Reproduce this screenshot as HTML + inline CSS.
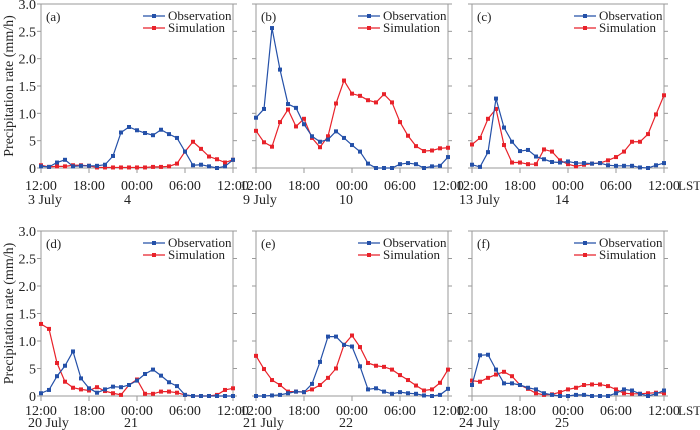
<!DOCTYPE html>
<html><head><meta charset="utf-8"><style>
body{margin:0;background:#fff;width:700px;height:430px;overflow:hidden}
svg{display:block;font-family:"Liberation Serif",serif}
</style></head><body>
<svg id="chart" width="700" height="430" viewBox="0 0 700 430" xmlns="http://www.w3.org/2000/svg"></svg>
<script>
const hourTicks=[0,6,12,18,24];
const timeLabels=["12:00","18:00","00:00","06:00","12:00"];
const yTicks=[0,0.5,1,1.5,2,2.5,3];
const yTickLabels=["0","5","1.0","1.5","2.0","2.5","3.0"];
const panelLetters=["(a)","(b)","(c)","(d)","(e)","(f)"];
const dateStart=["3 July","9 July","13 July","20 July","21 July","24 July"];
const dateNext=["4","10","14","21","22","25"];
const obsA=[0.03,0.02,0.1,0.15,0.03,0.04,0.04,0.04,0.06,0.22,0.65,0.75,0.69,0.64,0.6,0.7,0.62,0.55,0.3,0.05,0.06,0.03,0.0,0.03,0.15];
const simA=[0.05,0.02,0.03,0.03,0.05,0.05,0.04,0.01,0.01,0.01,0.01,0.01,0.01,0.01,0.02,0.02,0.03,0.08,0.3,0.48,0.35,0.21,0.16,0.1,0.15];
const obsB=[0.92,1.08,2.56,1.8,1.17,1.1,0.8,0.58,0.48,0.52,0.67,0.55,0.42,0.3,0.08,0.0,0.0,0.0,0.07,0.09,0.07,0.0,0.03,0.04,0.2];
const simB=[0.68,0.47,0.39,0.84,1.07,0.76,0.9,0.55,0.38,0.58,1.18,1.6,1.36,1.32,1.24,1.2,1.35,1.2,0.84,0.59,0.4,0.31,0.32,0.36,0.37];
const obsC=[0.06,0.02,0.29,1.27,0.74,0.48,0.31,0.33,0.21,0.16,0.11,0.1,0.12,0.09,0.09,0.08,0.09,0.05,0.04,0.04,0.04,0.01,0.0,0.05,0.09];
const simC=[0.43,0.55,0.9,1.08,0.42,0.1,0.1,0.07,0.07,0.34,0.3,0.14,0.07,0.03,0.06,0.08,0.09,0.14,0.2,0.3,0.48,0.48,0.62,0.98,1.33];
const obsD=[0.05,0.11,0.36,0.55,0.81,0.32,0.14,0.06,0.12,0.17,0.16,0.2,0.28,0.4,0.48,0.37,0.25,0.18,0.02,0.0,0.0,0.0,0.0,0.0,0.0];
const simD=[1.31,1.22,0.6,0.26,0.15,0.12,0.1,0.16,0.09,0.05,0.02,0.2,0.3,0.04,0.04,0.08,0.08,0.06,0.02,0.0,0.0,0.0,0.02,0.11,0.14];
const obsE=[0.0,0.0,0.01,0.02,0.05,0.08,0.07,0.22,0.62,1.08,1.08,0.93,0.9,0.54,0.12,0.14,0.08,0.04,0.07,0.05,0.04,0.01,0.0,0.02,0.13];
const simE=[0.73,0.49,0.29,0.2,0.08,0.08,0.07,0.12,0.2,0.33,0.5,0.93,1.1,0.89,0.6,0.55,0.53,0.48,0.38,0.29,0.19,0.1,0.12,0.24,0.48];
const obsF=[0.2,0.74,0.75,0.48,0.23,0.23,0.2,0.15,0.12,0.05,0.02,0.0,0.0,0.02,0.02,0.0,0.0,0.0,0.05,0.12,0.1,0.04,0.0,0.04,0.1];
const simF=[0.28,0.26,0.33,0.39,0.44,0.36,0.2,0.13,0.05,0.02,0.03,0.07,0.12,0.15,0.2,0.21,0.21,0.18,0.12,0.05,0.04,0.04,0.05,0.06,0.05];
const obsAll=[obsA,obsB,obsC,obsD,obsE,obsF];
const simAll=[simA,simB,simC,simD,simE,simF];

const svg=document.getElementById('chart');
const NS="http://www.w3.org/2000/svg";
function mk(tag,attrs,parent,text){const e=document.createElementNS(NS,tag);for(const k in attrs)e.setAttribute(k,attrs[k]);if(text!==undefined)e.textContent=text;(parent||svg).appendChild(e);return e;}
const lefts=[41,256,472];const W=192;
const rows=[{top:4,bot:168,tOff:22,dOff:36},{top:231,bot:396,tOff:19,dOff:31}];
const BLUE="#2450a8",RED="#e8222a";
for(let p=0;p<6;p++){
  const c=p%3,r=Math.floor(p/3);
  const L=lefts[c],T=rows[r].top,B=rows[r].bot;
  const xs=h=>L+h/24*W;
  const ys=v=>B-v/3*(B-T);
  const g=mk('g',{},svg);
  
  
  const box=mk('rect',{x:L,y:T,width:W,height:B-T,fill:'none',stroke:'#9a9a9a','stroke-width':1},g);
  
  yTicks.forEach((v,i)=>{
    mk('line',{x1:L-4,x2:L,y1:ys(v),y2:ys(v),stroke:'#9a9a9a'},g);
    mk('line',{x1:L+W,x2:L+W+4,y1:ys(v),y2:ys(v),stroke:'#9a9a9a'},g);
    if(c===0){const t=mk('text',{x:L-5,y:ys(v)+5,'text-anchor':'end','font-size':14,fill:'#222'},g,yTickLabels[i]);
      }
  });
  hourTicks.forEach((h,i)=>{
    mk('line',{x1:xs(h),x2:xs(h),y1:B,y2:B+5,stroke:'#9a9a9a'},g);
    const t=mk('text',{x:xs(h),y:B+rows[r].tOff,'text-anchor':'middle','font-size':14,fill:'#222'},g,timeLabels[i]);
    
  });
  const d1=mk('text',{x:L-13,y:B+rows[r].dOff,'font-size':14,fill:'#222'},g,dateStart[p]);
  
  const d2=mk('text',{x:xs(12)-13,y:B+rows[r].dOff,'font-size':14,fill:'#222'},g,dateNext[p]);
  
  const pl=mk('text',{x:L+5,y:T+17,'font-size':13,fill:'#222'},g,panelLetters[p]);
  
  [[simAll[p],RED,'simulation-series'],[obsAll[p],BLUE,'observation-series']].forEach(([arr,col,nm])=>{
    const s=mk('g',{},g);
    
    mk('polyline',{points:arr.map((v,i)=>xs(i)+','+ys(v)).join(' '),fill:'none',stroke:col,'stroke-width':1.2},s);
    arr.forEach((v,i)=>{const m=mk('rect',{x:xs(i)-2,y:ys(v)-2,width:4,height:4,fill:col},s);
      });
  });
  const lg=mk('g',{},g);
  
  [[BLUE,'Observation',T+12],[RED,'Simulation',T+24]].forEach(([col,lab,y])=>{
    mk('line',{x1:L+102,x2:L+124,y1:y,y2:y,stroke:col,'stroke-width':1.2},lg);
    mk('rect',{x:L+111,y:y-2,width:4,height:4,fill:col},lg);
    const t=mk('text',{x:L+127,y:y+4,'font-size':13,fill:'#222'},lg,lab);
    
  });
  if(c===0){
    const cy=(T+B)/2;
    const yl=mk('text',{x:0,y:0,transform:'translate(13,'+cy+') rotate(-90)','text-anchor':'middle','font-size':14,fill:'#222'},g,'Precipitation  rate (mm/h)');
    
  }
  if(c===2){
    const ls=mk('text',{x:678,y:B+rows[r].tOff,'font-size':13,fill:'#222'},g,'LST');
    
  }
}
</script>
</body></html>
